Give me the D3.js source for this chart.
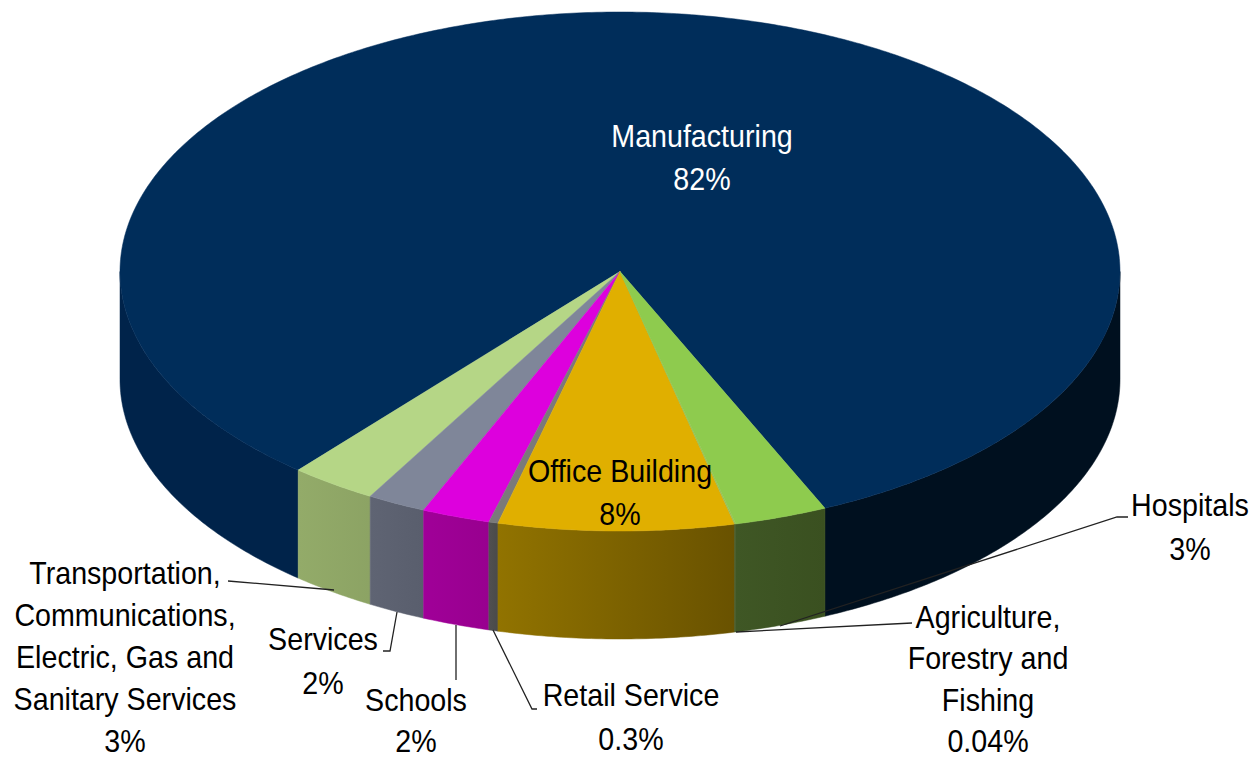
<!DOCTYPE html>
<html><head><meta charset="utf-8">
<script src="https://cdn.jsdelivr.net/npm/d3@7"></script>
<style>html,body{margin:0;background:#fff;overflow:hidden}svg{display:block}text{font-family:"Liberation Sans",Arial,sans-serif}</style>
</head><body><svg id="c" width="1260" height="757"></svg>
<script>
const categories=["Manufacturing","Transportation, Communications, Electric, Gas and Sanitary Services","Services","Schools","Retail Service","Office Building","Agriculture, Forestry and Fishing","Hospitals"];
const values=[82.1,2.8,1.9,2.2,0.3,7.6,0.04,3.0];
const valueLabels=["82%","3%","2%","2%","0.3%","8%","0.04%","3%"];
const topColors=["#002d5a","#b5d686","#7f8699","#dd00dd","#7a7a7a","#e0af00","#9bbb59","#8ecb4e"];
const sideLeft=["#00101f","#93ab69","#5f6473","#a00098","#505050","#917300","#3d5322","#3f5725"];
const sideRight=["#00101f","#8ca364","#595e6d","#98008f","#4a4a4a","#695200","#3d5322","#3a5020"];
const mfgBackWall="#00234a";

// label layout: centre x, text lines, first baseline, line step
const labelLayout=[
 {cx:702,y:147,dy:43,lines:["Manufacturing"],fill:"#fff"},
 {cx:125,y:584,dy:42,lines:["Transportation,","Communications,","Electric, Gas and","Sanitary Services"]},
 {cx:323,y:650,dy:44,lines:["Services"]},
 {cx:416,y:711,dy:41,lines:["Schools"]},
 {cx:631,y:706,dy:44,lines:["Retail Service"]},
 {cx:620,y:482,dy:43,lines:["Office Building"]},
 {cx:988,y:628,dy:41.3,lines:["Agriculture,","Forestry and","Fishing"]},
 {cx:1190,y:516,dy:44,lines:["Hospitals"]}
];
const leaders=[
 [[228,581],[334,590]],
 [[383,651],[390,651],[397,612]],
 [[456,625],[456,680]],
 [[493,630],[532,709],[537,709]],
 [[912,623],[736,632]],
 [[1128,517],[1117,517],[780,626]]
];

const svg=d3.select("#c");
const sx=d3.scaleLinear().domain([-1,1]).range([120,1120]);
const sy=d3.scaleLinear().domain([-1,1]).range([12,531]);
const depth=108;
const startDeg=24.2;
const pie=d3.pie().sort(null).startAngle(startDeg*Math.PI/180).endAngle((startDeg+360)*Math.PI/180)(values);
const line=d3.line();
const pt=(a,d=0)=>[sx(Math.sin(a)),sy(Math.cos(a))+d];
const samples=(a0,a1)=>{const n=Math.max(2,Math.ceil(Math.abs(a1-a0)/0.01));return d3.range(n+1).map(i=>a0+(a1-a0)*i/n);};
const defs=svg.append("defs");

const TAU=2*Math.PI;
function frontParts(a0,a1){
  const parts=[];
  for(const k of [0,1]){
    const lo=Math.max(a0,k*TAU-Math.PI/2),hi=Math.min(a1,k*TAU+Math.PI/2);
    if(hi>lo)parts.push([lo,hi]);
  }
  return parts;
}
pie.forEach((s,i)=>{
  frontParts(s.startAngle,s.endAngle).forEach((p,j)=>{
    const xs=[pt(p[0])[0],pt(p[1])[0]];
    const id=`g${i}_${j}`;
    const isLeftPart=i===0&&xs[0]<sx(0);
    const g=defs.append("linearGradient").attr("id",id).attr("gradientUnits","userSpaceOnUse")
      .attr("x1",d3.min(xs)).attr("x2",d3.max(xs)).attr("y1",0).attr("y2",0);
    g.append("stop").attr("offset",0).attr("stop-color",isLeftPart?mfgBackWall:sideLeft[i]);
    g.append("stop").attr("offset",1).attr("stop-color",isLeftPart?mfgBackWall:sideRight[i]);
    const as=samples(p[0],p[1]);
    const poly=as.map(a=>pt(a)).concat(as.slice().reverse().map(a=>pt(a,depth)));
    svg.append("path").attr("d",line(poly)+"Z").attr("fill",`url(#${id})`).attr("stroke",`url(#${id})`).attr("stroke-width",0.5);
  });
});
pie.forEach((s,i)=>{
  const poly=[[sx(0),sy(0)]].concat(samples(s.startAngle,s.endAngle).map(a=>pt(a)));
  svg.append("path").attr("d",line(poly)+"Z").attr("fill",topColors[i]).attr("stroke",topColors[i]).attr("stroke-width",0.5);
});
svg.append("g").selectAll("path").data(leaders).join("path")
  .attr("d",d=>line(d)).attr("fill","none").attr("stroke","#222").attr("stroke-width",1.3);
const fs=32, squeeze=0.895;
labelLayout.forEach((l,i)=>{
  const t=svg.append("text").attr("transform",`translate(${l.cx},${l.y}) scale(${squeeze},1)`)
    .attr("text-anchor","middle").attr("font-size",fs).attr("fill",l.fill||"#000");
  l.lines.concat([valueLabels[i]]).forEach((txt,k)=>{
    t.append("tspan").attr("x",0).attr("y",k*l.dy).text(txt);
  });
});
</script></body></html>
